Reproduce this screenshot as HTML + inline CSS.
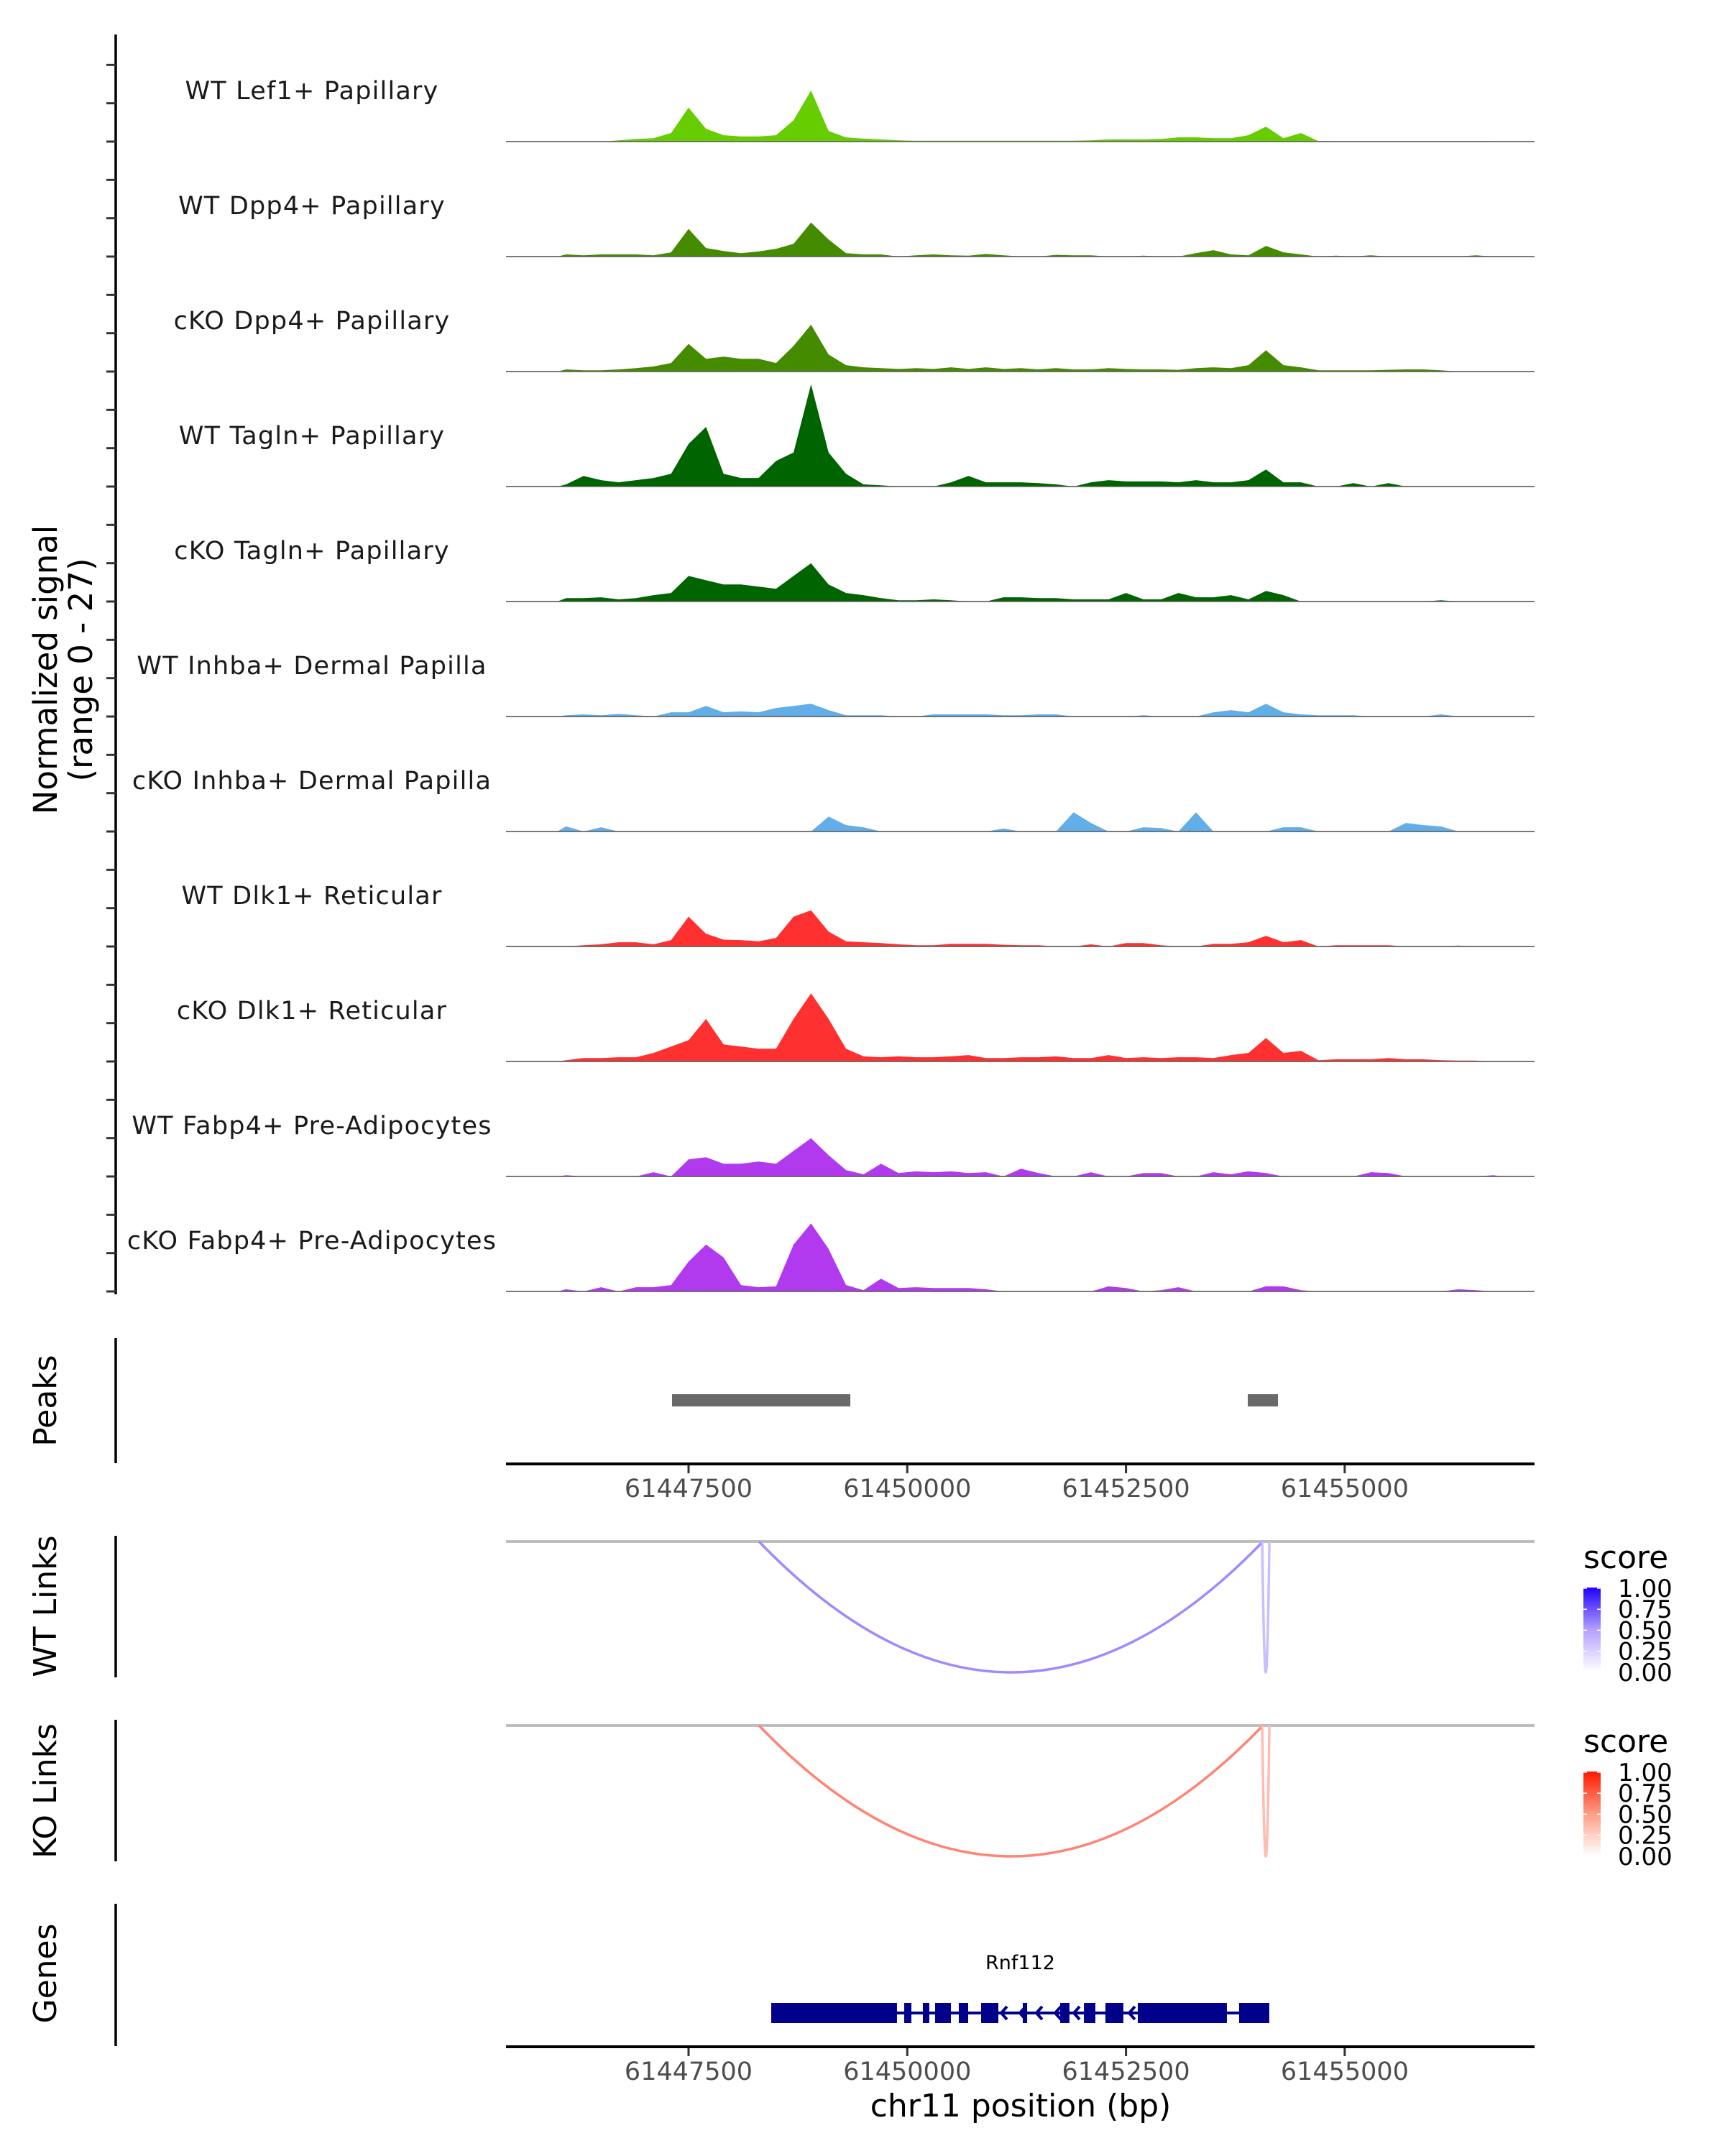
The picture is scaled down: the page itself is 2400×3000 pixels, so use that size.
<!DOCTYPE html>
<html><head><meta charset="utf-8"><style>
html,body{margin:0;padding:0;background:#fff;}
svg{display:block;font-family:"DejaVu Sans","Liberation Sans",sans-serif;}
</style></head><body>
<svg id="chart" xmlns="http://www.w3.org/2000/svg" width="2400" height="3000" viewBox="0 0 2400 3000">
<rect width="2400" height="3000" fill="#fff"/>
<defs>
<linearGradient id="gWT" x1="0" y1="1" x2="0" y2="0"><stop offset="0" stop-color="#ffffff"/><stop offset="0.5" stop-color="#b4a0ff"/><stop offset="1" stop-color="#2000ff"/></linearGradient>
<linearGradient id="gKO" x1="0" y1="1" x2="0" y2="0"><stop offset="0" stop-color="#ffffff"/><stop offset="0.5" stop-color="#ff9c84"/><stop offset="1" stop-color="#ff1a00"/></linearGradient>
</defs>
<g id="g"></g>
</svg>
<script>
// ---- data ----
const trackNames = ["WT Lef1+ Papillary","WT Dpp4+ Papillary","cKO Dpp4+ Papillary","WT Tagln+ Papillary","cKO Tagln+ Papillary","WT Inhba+ Dermal Papilla","cKO Inhba+ Dermal Papilla","WT Dlk1+ Reticular","cKO Dlk1+ Reticular","WT Fabp4+ Pre-Adipocytes","cKO Fabp4+ Pre-Adipocytes"];
const trackColors = ["#66cd00","#458b00","#458b00","#006400","#006400","#62aee8","#62aee8","#ff3030","#ff3030","#b23aee","#b23aee"];
const binStartBp = 61446000;
const binSizeBp = 200;
const wtLef1 = [0,0,0,.3,.6,.8,2,8,3,1.5,1.2,1.2,1.5,5,12,2.5,1,.7,.5,.3,.2,.2,.2,.2,.2,.2,.2,.2,.2,.2,.3,.5,.5,.5,.6,1,1,.8,.8,1.5,3.5,.8,2,.1,.1,.1,.1,.1,.1,.1,.1,.1,.1,.1];
const wtDpp4 = [.5,.3,.5,.5,.5,.3,1,6.5,2,1.3,.8,1.2,1.8,3,8,4,.8,.5,.5,0,.3,.5,.3,.2,.6,.3,0,0,.4,.3,.3,0,0,.2,0,0,.8,1.5,.5,.3,2.5,1,.5,0,.2,0,.3,0,0,0,0,0,.3,0];
const ckoDpp4 = [.5,.3,.3,.5,.8,1.2,2,6.5,3,3.5,3,3,2,6,11,4,1.5,1,.8,.6,.8,.6,1,.6,1,.6,.8,.5,.8,.5,.5,.8,.6,.5,.5,.4,.8,1,.8,1.5,5,1.5,1,.3,.3,.3,.3,.4,.5,.5,.3,0,0,0];
const wtTagln = [.5,2.5,1.5,1,1.5,2,3,10,14,3,2,2,6,8,24,8,3,.5,.3,0,0,0,1,2.5,1,1,1,.8,.5,0,1,1.5,1.2,1.2,1.2,1,1.5,1,1,1.5,4,1,1,0,0,.8,0,.8,0,0,0,0,0,0];
const ckoTagln = [.8,.8,1,.5,.8,1.5,2,6,5,4,4,3.5,3,6,9,4,2,1.5,.8,.3,.3,.5,.3,0,0,1,1,.8,.8,.5,.5,.5,2,.5,.5,2,1,1,1.5,.5,2.5,1.5,0,0,0,0,0,0,0,0,.3,0,0,0];
const wtInhba = [.3,.5,.3,.6,.3,0,1,1,2.5,1,1.2,1,2,2.5,3,1.5,.3,.3,.3,0,0,.5,.5,.5,.5,.3,.3,.5,.5,0,0,0,0,.3,0,0,0,1,1.5,1,3,1,.5,.3,.3,.3,0,0,0,0,.5,0,0,0];
const ckoInhba = [1.2,0,1,0,0,0,0,0,0,0,0,0,0,0,0,3.5,1.5,1,0,0,0,0,0,0,0,.7,0,0,0,4.5,2,0,0,1,.8,0,4.5,0,0,0,0,1,1,0,0,0,0,0,2,1.5,1.2,0,0,0];
const wtDlk1 = [0,.3,.5,1,1,.5,1.5,7,3,1.6,1.5,1.2,2,7,8.5,3.5,1.2,1,.8,.5,.3,.3,.6,.6,.6,.4,.3,.3,0,0,.5,0,.8,.8,.3,0,0,.6,.6,1,2.5,1,1.5,0,.3,.3,.3,.3,0,0,0,.2,0,0];
const ckoDlk1 = [.3,.8,.8,1,1,2,3.5,5,10,4,3.5,3,3,10,16,10,3,1.2,1,1.2,1,1,1.2,1.5,.8,.8,1,1,1.2,.8,.8,1.5,.8,1,.8,1,1,.8,1.5,2,5.5,2,2.5,.3,.5,.5,.5,.8,.5,.5,.3,.2,.2,0];
const wtFabp4 = [.3,0,0,0,0,1,0,4,4.5,3,3,3.5,3,6,9,5,1.5,.5,3,.8,1.2,1,1.2,.8,1,0,1.8,.8,0,0,1,0,0,.8,.8,0,0,1,.5,1.2,.8,0,0,0,0,0,1,.8,0,0,0,0,0,.3];
const ckoFabp4 = [.5,0,1,0,1,1,1.5,7,11,8,1.5,1,1.2,11,16,10,1.5,.3,3,.8,1,.8,.8,.8,.5,0,0,0,0,0,0,1.2,.8,0,.3,1,0,0,0,0,1.2,1.2,.3,0,0,0,0,0,0,0,0,.5,.3,0];
const trackValues = [wtLef1,wtDpp4,ckoDpp4,wtTagln,ckoTagln,wtInhba,ckoInhba,wtDlk1,ckoDlk1,wtFabp4,ckoFabp4];
const signalMax = 27;
const peakStarts = [61447311, 61453892];
const peakEnds = [61449349, 61454237];
const xTicks = [61447500, 61450000, 61452500, 61455000];
const wtLinkStarts = [61448305, 61454057];
const wtLinkEnds = [61454065, 61454139];
const wtLinkScores = [0.45, 0.25];
const koLinkStarts = [61448305, 61454057];
const koLinkEnds = [61454065, 61454139];
const koLinkScores = [0.55, 0.3];
const legendTicks = ["1.00","0.75","0.50","0.25","0.00"];
const geneName = "Rnf112";
const geneStart = 61448445, geneEnd = 61454138;
const exonStarts = [61448445,61449965,61450178,61450318,61450589,61450844,61451320,61451748,61452019,61452265,61452635,61453793];
const exonEnds   = [61449882,61450047,61450252,61450499,61450696,61451041,61451370,61451854,61452150,61452470,61453653,61454138];
const strandArrows = [61451074,61451287,61451476,61451690,61451904,61452536];

// ---- scales ----
const X0 = 704, X1 = 2135;
function xs(bp){ return 958 + (bp - 61447500) * 0.12172; }
const trackBase0 = 197, trackStep = 160;
function ys(i, v){ return trackBase0 + trackStep*i - v * (trackStep / signalMax); }
const NS = "http://www.w3.org/2000/svg";
const root = document.getElementById('g');
function mk(tag, attrs, parent){ const e = document.createElementNS(NS, tag); for (const k in attrs) e.setAttribute(k, attrs[k]); (parent||root).appendChild(e); return e; }

// ---- signal tracks ----
const leftAxis = mk('line',{x1:161,y1:48,x2:161,y2:1801,stroke:'#000','stroke-width':3.5});


for (let t = 0; t <= 33; t++) {
  const y = 1797 - t * trackStep / 3;
  if (y < 60) break;
  const tk = mk('line',{x1:148,y1:y,x2:161,y2:y,stroke:'#333','stroke-width':3});
  
  
}
const yTitle = mk('text',{transform:'translate(79,932) rotate(-90)','text-anchor':'middle','font-size':45,fill:'#000'});
yTitle.textContent = 'Normalized signal';


const yTitle2 = mk('text',{transform:'translate(128,932) rotate(-90)','text-anchor':'middle','font-size':45,fill:'#000'});
yTitle2.textContent = '(range 0 - 27)';



trackValues.forEach((vals, i) => {
  const base = ys(i, 0);
  const g = mk('g', {});
  
  
  let d = 'M' + xs(binStartBp).toFixed(1) + ',' + base;
  vals.forEach((v, j) => {
    d += ' L' + xs(binStartBp + binSizeBp*j + binSizeBp/2).toFixed(1) + ',' + ys(i, v).toFixed(1);
  });
  d += ' L' + xs(binStartBp + binSizeBp*vals.length).toFixed(1) + ',' + base + ' Z';
  const area = mk('path', {d: d, fill: trackColors[i]}, g);
  
  
  const bl = mk('line', {x1:X0, y1:base, x2:X1, y2:base, stroke:'#666', 'stroke-width':1.8}, g);
  
  
  const lab = mk('text', {x:434, y:base - 59, 'text-anchor':'middle', 'font-size':35, 'letter-spacing':1.2, fill:'#1a1a1a'}, g);
  lab.textContent = trackNames[i];
  
  
});

// ---- peaks ----
function panelAxis(y1, y2, title, ty, name){
  const a = mk('line',{x1:161,y1:y1,x2:161,y2:y2,stroke:'#000','stroke-width':3.5});
  
  
  const t = mk('text',{transform:'translate(78,'+ty+') rotate(-90)','text-anchor':'middle','font-size':44,fill:'#000'});
  t.textContent = title;
  
  
}
panelAxis(1862, 2036, 'Peaks', 1949, 'peaks');
peakStarts.forEach((s, i) => {
  const r = mk('rect',{x:xs(s), y:1940, width:xs(peakEnds[i]) - xs(s), height:17, fill:'#696969'});
  
  
});
function xAxis(y, labY, name){
  const a = mk('line',{x1:X0,y1:y,x2:X1,y2:y,stroke:'#000','stroke-width':4});
  
  
  xTicks.forEach(v => {
    const tk = mk('line',{x1:xs(v),y1:y+2,x2:xs(v),y2:y+13,stroke:'#333','stroke-width':3});
    
    
    const tl = mk('text',{x:xs(v), y:labY, 'text-anchor':'middle','font-size':35, fill:'#4d4d4d'});
    tl.textContent = String(v);
    
    
  });
}
xAxis(2037, 2083, 'peaks-x-axis');

// ---- links ----
function linkPanel(base, starts, ends, scores, endRGB, title, ty, name, gradId, legY){
  panelAxis(base - 8, base + 189, title, ty, name);
  const bl = mk('line',{x1:X0,y1:base,x2:X1,y2:base,stroke:'#bebebe','stroke-width':4});
  
  
  const depth = 182;
  starts.forEach((s, i) => {
    const sc = scores[i];
    const c = [0,1,2].map(k => Math.round(255 + (endRGB[k]-255)*sc));
    const xa = xs(s), xb = xs(ends[i]);
    const p = mk('path',{d:'M'+xa+','+base+' Q'+((xa+xb)/2)+','+(base+2*depth)+' '+xb+','+base, fill:'none', stroke:'rgb('+c.join(',')+')', 'stroke-width':3.5});
    
    
  });
  const lt = mk('text',{x:2203, y:legY, 'font-size':44, fill:'#000'});
  lt.textContent = 'score';
  
  
  const bar = mk('rect',{x:2203, y:legY+27, width:24, height:117, fill:'url(#'+gradId+')'});
  
  
  legendTicks.forEach((t, k) => {
    const yy = legY + 28 + k * 29.2;
    mk('line',{x1:2203,y1:yy,x2:2208,y2:yy,stroke:'#fff','stroke-width':1.5});
    mk('line',{x1:2222,y1:yy,x2:2227,y2:yy,stroke:'#fff','stroke-width':1.5});
    const tl = mk('text',{x:2251, y:yy + 12, 'font-size':34, fill:'#000'});
    tl.textContent = t;
    
    
  });
}
linkPanel(2145, wtLinkStarts, wtLinkEnds, wtLinkScores, [32,0,255], 'WT Links', 2235, 'wt-links', 'gWT', 2182);
linkPanel(2401, koLinkStarts, koLinkEnds, koLinkScores, [255,32,0], 'KO Links', 2492, 'ko-links', 'gKO', 2438);

// ---- genes ----
panelAxis(2649, 2847, 'Genes', 2746, 'genes');
const gy = 2801;
const gl = mk('line',{x1:xs(geneStart),y1:gy,x2:xs(geneEnd),y2:gy,stroke:'#00008b','stroke-width':4});


exonStarts.forEach((s, i) => {
  const r = mk('rect',{x:xs(s), y:gy-14, width:xs(exonEnds[i]) - xs(s), height:28, fill:'#00008b'});
  
  
});
strandArrows.forEach(b => {
  const x = xs(b);
  const a = mk('polyline',{points:(x+8)+','+(gy-9)+' '+x+','+gy+' '+(x+8)+','+(gy+9), fill:'none', stroke:'#00008b','stroke-width':4});
  
  
});
const gn = mk('text',{x:xs((geneStart+geneEnd)/2), y:2740, 'text-anchor':'middle','font-size':27, fill:'#000'});
gn.textContent = geneName;


xAxis(2848, 2894, 'genes-x-axis');
const xt = mk('text',{x:1420, y:2945, 'text-anchor':'middle','font-size':44, fill:'#000'});
xt.textContent = 'chr11 position (bp)';


</script>
</body></html>
